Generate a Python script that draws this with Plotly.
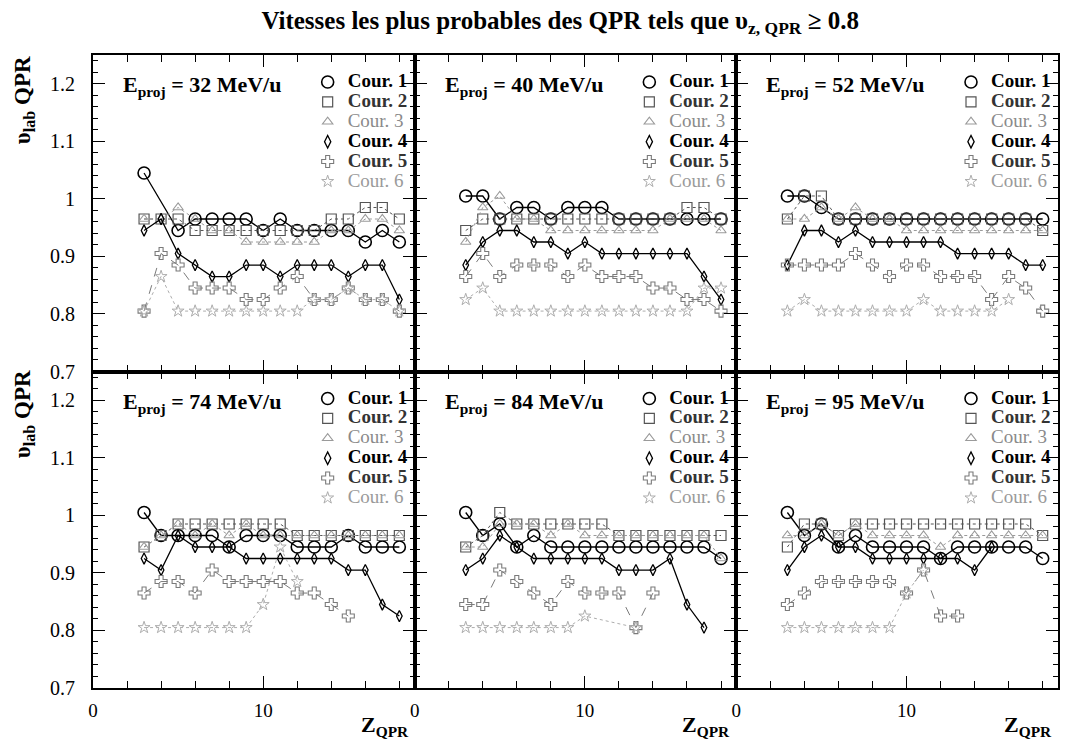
import plotly.graph_objects as go
from plotly.subplots import make_subplots

# Fragment charge Z (x axis), shared by every panel
Z = list(range(3, 19))

# Beam energies (MeV/u), one panel each
energies = [32, 40, 52, 74, 84, 95]

# Most probable lab velocity of the QPR for each "Cour." selection
E32_C1 = [1.045, None, 0.945, 0.965, 0.965, 0.965, 0.965, 0.945, 0.965, 0.945, 0.945, 0.945, 0.945, 0.925, 0.945, 0.925]
E32_C2 = [0.965, 0.965, 0.965, 0.945, 0.945, 0.945, 0.945, 0.945, 0.945, 0.945, 0.945, 0.965, 0.965, 0.985, 0.985, 0.965]
E32_C3 = [0.965, 0.965, 0.985, 0.965, 0.945, 0.945, 0.925, 0.925, 0.925, 0.925, 0.925, 0.945, 0.945, 0.965, 0.965, 0.945]
E32_C4 = [0.945, 0.965, 0.905, 0.885, 0.865, 0.865, 0.885, 0.885, 0.865, 0.885, 0.885, 0.885, 0.865, 0.885, 0.885, 0.825]
E32_C5 = [0.805, 0.905, 0.885, 0.845, 0.845, 0.845, 0.825, 0.825, 0.845, 0.865, 0.825, 0.825, 0.845, 0.825, 0.825, 0.805]
E32_C6 = [0.805, 0.865, 0.805, 0.805, 0.805, 0.805, 0.805, 0.805, 0.805, 0.805, 0.825, 0.825, 0.845, 0.825, 0.825, 0.805]

E40_C1 = [1.005, 1.005, 0.965, 0.985, 0.985, 0.965, 0.985, 0.985, 0.985, 0.965, 0.965, 0.965, 0.965, 0.965, 0.965, 0.965]
E40_C2 = [0.945, 0.965, 0.965, 0.965, 0.965, 0.965, 0.965, 0.965, 0.965, 0.965, 0.965, 0.965, 0.965, 0.985, 0.985, 0.965]
E40_C3 = [0.925, 0.985, 1.005, 0.965, 0.965, 0.945, 0.945, 0.945, 0.945, 0.945, 0.945, 0.945, 0.965, 0.965, 0.965, 0.945]
E40_C4 = [0.885, 0.925, 0.945, 0.945, 0.925, 0.925, 0.905, 0.925, 0.905, 0.905, 0.905, 0.905, 0.905, 0.905, 0.865, 0.825]
E40_C5 = [0.865, 0.905, 0.865, 0.885, 0.885, 0.885, 0.865, 0.885, 0.865, 0.865, 0.865, 0.845, 0.845, 0.825, 0.825, 0.805]
E40_C6 = [0.825, 0.845, 0.805, 0.805, 0.805, 0.805, 0.805, 0.805, 0.805, 0.805, 0.805, 0.805, 0.805, 0.805, 0.845, 0.845]

E52_C1 = [1.005, 1.005, 0.985, 0.965, 0.965, 0.965, 0.965, 0.965, 0.965, 0.965, 0.965, 0.965, 0.965, 0.965, 0.965, 0.965]
E52_C2 = [0.965, 1.005, 1.005, 0.965, 0.965, 0.965, 0.965, 0.965, 0.965, 0.965, 0.965, 0.965, 0.965, 0.965, 0.965, 0.945]
E52_C3 = [0.965, 0.965, 0.985, 0.965, 0.985, 0.965, 0.965, 0.945, 0.945, 0.945, 0.945, 0.945, 0.945, 0.945, 0.945, 0.945]
E52_C4 = [0.885, 0.945, 0.945, 0.925, 0.945, 0.925, 0.925, 0.925, 0.925, 0.925, 0.905, 0.905, 0.905, 0.905, 0.885, 0.885]
E52_C5 = [0.885, 0.885, 0.885, 0.885, 0.905, 0.885, 0.865, 0.885, 0.885, 0.865, 0.865, 0.865, 0.825, 0.865, 0.845, 0.805]
E52_C6 = [0.805, 0.825, 0.805, 0.805, 0.805, 0.805, 0.805, 0.805, 0.825, 0.805, 0.805, 0.805, 0.805, 0.825, None, None]

E74_C1 = [1.005, 0.965, 0.965, 0.965, 0.965, 0.945, 0.965, 0.965, 0.965, 0.945, 0.945, 0.945, 0.965, 0.945, 0.945, 0.945]
E74_C2 = [0.945, 0.965, 0.985, 0.985, 0.985, 0.985, 0.985, 0.985, 0.985, 0.965, 0.965, 0.965, 0.965, 0.965, 0.965, 0.965]
E74_C3 = [0.945, 0.965, 0.985, 0.965, 0.985, 0.965, 0.985, 0.965, 0.965, 0.965, 0.965, 0.965, 0.965, 0.965, 0.965, 0.965]
E74_C4 = [0.925, 0.905, 0.965, 0.945, 0.945, 0.945, 0.925, 0.925, 0.925, 0.925, 0.925, 0.925, 0.905, 0.905, 0.845, 0.825]
E74_C5 = [0.865, 0.885, 0.885, 0.865, 0.905, 0.885, 0.885, 0.885, 0.885, 0.865, 0.865, 0.845, 0.825, None, None, None]
E74_C6 = [0.805, 0.805, 0.805, 0.805, 0.805, 0.805, 0.805, 0.845, 0.945, 0.885, None, None, None, None, None, None]

E84_C1 = [1.005, 0.965, 0.985, 0.945, 0.965, 0.945, 0.945, 0.945, 0.945, 0.945, 0.945, 0.945, 0.945, 0.945, 0.945, 0.925]
E84_C2 = [0.945, 0.965, 1.005, 0.985, 0.985, 0.985, 0.985, 0.985, 0.985, 0.965, 0.965, 0.965, 0.965, 0.965, 0.965, 0.965]
E84_C3 = [0.945, 0.945, 0.985, 0.985, 0.985, 0.965, 0.985, 0.965, 0.965, 0.965, 0.965, 0.965, 0.965, 0.965, 0.965, 0.925]
E84_C4 = [0.905, 0.925, 0.965, 0.945, 0.925, 0.925, 0.925, 0.925, 0.925, 0.905, 0.905, 0.905, 0.925, 0.845, 0.805, None]
E84_C5 = [0.845, 0.845, 0.905, 0.885, 0.865, 0.845, 0.885, 0.865, 0.865, 0.865, 0.805, 0.865, None, None, None, None]
E84_C6 = [0.805, 0.805, 0.805, 0.805, 0.805, 0.805, 0.805, 0.825, None, None, 0.805, None, None, None, None, None]

E95_C1 = [1.005, 0.965, 0.985, 0.945, 0.965, 0.945, 0.945, 0.945, 0.945, 0.925, 0.945, 0.945, 0.945, 0.945, 0.945, 0.925]
E95_C2 = [0.945, 0.985, 0.985, 0.965, 0.985, 0.985, 0.985, 0.985, 0.985, 0.985, 0.985, 0.985, 0.985, 0.985, 0.985, 0.965]
E95_C3 = [0.965, 0.965, 0.985, 0.965, 0.985, 0.965, 0.965, 0.965, 0.965, 0.945, 0.965, 0.965, 0.965, 0.965, 0.965, 0.965]
E95_C4 = [0.905, 0.945, 0.965, 0.945, 0.945, 0.925, 0.925, 0.925, 0.925, 0.925, 0.925, 0.905, 0.945, None, None, None]
E95_C5 = [0.845, 0.865, 0.885, 0.885, 0.885, 0.885, 0.885, 0.865, 0.905, 0.825, 0.825, None, None, None, None, None]
E95_C6 = [0.805, 0.805, 0.805, 0.805, 0.805, 0.805, 0.805, 0.865, 0.905, None, None, None, None, None, None, None]

panels = [
    [E32_C1, E32_C2, E32_C3, E32_C4, E32_C5, E32_C6],
    [E40_C1, E40_C2, E40_C3, E40_C4, E40_C5, E40_C6],
    [E52_C1, E52_C2, E52_C3, E52_C4, E52_C5, E52_C6],
    [E74_C1, E74_C2, E74_C3, E74_C4, E74_C5, E74_C6],
    [E84_C1, E84_C2, E84_C3, E84_C4, E84_C5, E84_C6],
    [E95_C1, E95_C2, E95_C3, E95_C4, E95_C5, E95_C6],
]

series_names = ["Cour. 1", "Cour. 2", "Cour. 3", "Cour. 4", "Cour. 5", "Cour. 6"]

# Per-series look: marker symbol, size, colour, line dash, legend text style
styles = [
    dict(symbol="circle-open", size=12, color="#000000", dash="solid", lw=1.3, mlw=1.6, tcol="#000000", bold=True),
    dict(symbol="square-open", size=10, color="#555555", dash="dot", lw=1.0, mlw=1.2, tcol="#333333", bold=True),
    dict(symbol="triangle-up-open", size=9, color="#9a9a9a", dash="dot", lw=1.0, mlw=1.1, tcol="#8a8a8a", bold=False),
    dict(symbol="diamond-tall-open", size=8, color="#000000", dash="solid", lw=1.3, mlw=1.3, tcol="#000000", bold=True),
    dict(symbol="cross-open", size=10, color="#7a7a7a", dash="dash", lw=1.0, mlw=1.1, tcol="#333333", bold=True),
    dict(symbol="star-open", size=9, color="#adadad", dash="dot", lw=1.0, mlw=1.0, tcol="#9a9a9a", bold=False),
]

W, H = 1067, 748
ML, MR, MT, MB = 93, 7, 55, 60
PW, PH = W - ML - MR, H - MT - MB

FONT = "'Liberation Serif', 'DejaVu Serif', 'Times New Roman', serif"

fig = make_subplots(rows=2, cols=3, horizontal_spacing=0, vertical_spacing=0)


def px_to_paper(px, py):
    return (px - ML) / PW, (H - MB - py) / PH


for p, data in enumerate(panels):
    row, col = p // 3 + 1, p % 3 + 1
    legend_id = "legend" if p == 0 else f"legend{p + 1}"
    for s, (vals, st) in enumerate(zip(data, styles)):
        fig.add_trace(
            go.Scatter(
                x=Z, y=vals, mode="lines+markers", connectgaps=True,
                line=dict(color=st["color"], width=st["lw"], dash=st["dash"]),
                marker=dict(symbol=st["symbol"], size=st["size"], color=st["color"],
                            line=dict(width=st["mlw"], color=st["color"])),
                showlegend=False, hoverinfo="x+y",
            ),
            row=row, col=col,
        )
    # marker-only legend entries for this panel
    for s, st in enumerate(styles):
        label = series_names[s]
        txt = f"<b>{label}</b>" if st["bold"] else label
        name = f"<span style='font-size:19px;color:{st['tcol']}'>{txt}</span>"
        fig.add_trace(
            go.Scatter(
                x=[None], y=[None], mode="markers", name=name,
                marker=dict(symbol=st["symbol"], size=max(st["size"], 9), color=st["color"],
                            line=dict(width=st["mlw"], color=st["color"])),
                legend=legend_id, showlegend=True,
            ),
            row=row, col=col,
        )

# Axis styling
for p in range(6):
    row, col = p // 3 + 1, p % 3 + 1
    fig.update_xaxes(
        range=[0, 18.9], dtick=10, tick0=0, ticks="inside", ticklen=12, tickwidth=1.2,
        tickcolor="black", showline=True, linecolor="black", linewidth=2, mirror="ticks",
        showgrid=False, zeroline=False,
        minor=dict(dtick=2, ticks="inside", ticklen=7, tickcolor="black", tickwidth=1, showgrid=False),
        showticklabels=(row == 2), ticklabelstandoff=4,
        tickfont=dict(family=FONT, size=19, color="black"),
        row=row, col=col,
    )
    fig.update_yaxes(
        range=[0.7, 1.25], dtick=0.1, tick0=0.7, ticks="inside", ticklen=12, tickwidth=1.2,
        tickcolor="black", showline=True, linecolor="black", linewidth=2, mirror="ticks",
        showgrid=False, zeroline=False,
        minor=dict(dtick=0.02, ticks="inside", ticklen=5, tickcolor="black", tickwidth=1, showgrid=False),
        showticklabels=(col == 1), ticklabelstandoff=12,
        tickfont=dict(family=FONT, size=20, color="black"),
        row=row, col=col,
    )

# Per-panel legends placed in the top-right corner of each panel
col_w = PW / 3
row_h = PH / 2
legend_layout = {}
annotations = []
for p, e in enumerate(energies):
    r, c = p // 3, p % 3
    left_px = ML + c * col_w
    right_px = ML + (c + 1) * col_w
    top_px = MT + r * row_h
    lx, ly = px_to_paper(right_px - 2, top_px + 12)
    key = "legend" if p == 0 else f"legend{p + 1}"
    legend_layout[key] = dict(
        x=lx, y=ly, xanchor="right", yanchor="top",
        bgcolor="rgba(0,0,0,0)", borderwidth=0,
        font=dict(family=FONT, size=13, color="black"),
        itemsizing="trace", tracegroupgap=0,
    )
    ax, ay = px_to_paper(left_px + 28, top_px + 31)
    annotations.append(dict(
        x=ax, y=ay, xref="paper", yref="paper", xanchor="left", yanchor="middle",
        text=f"<b>E<sub>proj</sub> = {e} MeV/u</b>", showarrow=False,
        font=dict(family=FONT, size=22, color="black"),
    ))
    if r == 1:
        tx, ty = px_to_paper(right_px - 4, 726)
        annotations.append(dict(
            x=tx, y=ty, xref="paper", yref="paper", xanchor="right", yanchor="middle",
            text="<b>Z<sub>QPR</sub></b>", showarrow=False,
            font=dict(family=FONT, size=22, color="black"),
        ))

# Vertical axis titles for both rows
for cy in (100, 414):
    vx, vy = px_to_paper(24, cy)
    annotations.append(dict(
        x=vx, y=vy, xref="paper", yref="paper", xanchor="center", yanchor="middle",
        text="<b>υ<sub>lab</sub> QPR</b>", textangle=-90, showarrow=False,
        font=dict(family=FONT, size=23, color="black"),
    ))

fig.update_layout(
    width=W, height=H,
    margin=dict(l=ML, r=MR, t=MT, b=MB),
    paper_bgcolor="white", plot_bgcolor="white",
    font=dict(family=FONT),
    title=dict(
        text="<b>Vitesses les plus probables des QPR tels que υ<sub>z, QPR</sub> ≥ 0.8</b>",
        x=0.525, xanchor="center", y=1 - 20 / H, yanchor="middle",
        font=dict(family=FONT, size=25, color="black"),
    ),
    annotations=annotations,
    **legend_layout,
)

fig.write_html("out.html")
